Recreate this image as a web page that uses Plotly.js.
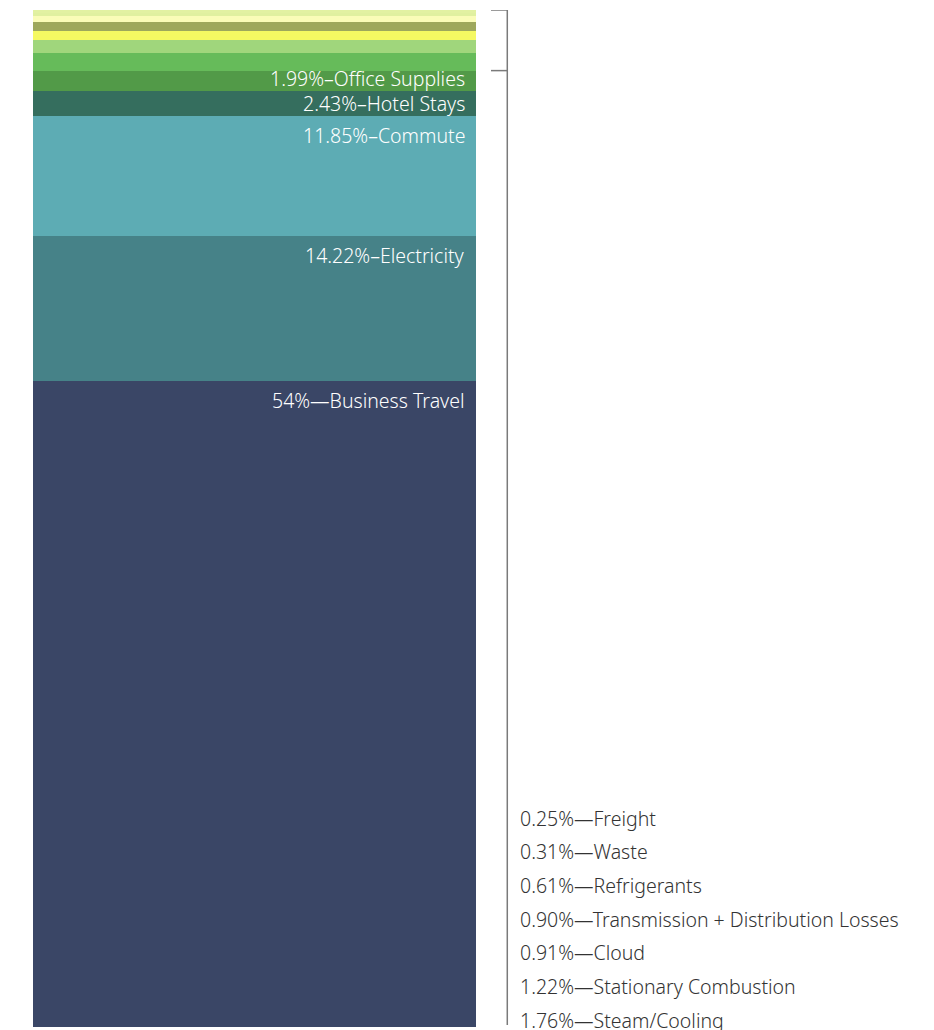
<!DOCTYPE html>
<html>
<head>
<meta charset="utf-8">
<script src="https://cdn.plot.ly/plotly-3.0.1.min.js"></script>
<style>html,body{margin:0;padding:0;background:#fff;}#chart{width:934px;height:1030px;}</style>
</head>
<body>
<div id="chart"></div>
<script>
// Segments from bottom to top
const categories = ["Business Travel","Electricity","Commute","Hotel Stays","Office Supplies","Steam/Cooling","Stationary Combustion","Cloud","Transmission + Distribution Losses","Refrigerants","Waste","Freight"];
const values = [63.55, 14.22, 11.85, 2.43, 1.99, 1.76, 1.22, 0.91, 0.90, 0.61, 0.31, 0.25];
const labelPct = ["54%","14.22%","11.85%","2.43%","1.99%","1.76%","1.22%","0.91%","0.90%","0.61%","0.31%","0.25%"];
const colors = ["#3a4666","#468288","#5dacb4","#356e5e","#529a48","#66bb5a","#a0d67c","#f5f962","#9ea85c","#fafcb8","#e0f0a0","#e2f1a2"];
// inside labels (index, dash)
const insideIdx = [0,1,2,3,4];
const insideDash = ["—","–","–","–","–"];
const insideMode = ["top","top","top","mid","mid"];
// outside list, top to bottom
const outsideIdx = [11,10,9,8,7,6,5];

const total = values.reduce((a,b)=>a+b,0);
const cum = [];
let s = 0;
values.forEach(v=>{cum.push(s); s+=v;});

const traces = categories.map((c,i)=>({
  type:'bar', x:[0], y:[values[i]], width:[1], name:c,
  marker:{color:colors[i], line:{width:0}},
  hoverinfo:'skip', showlegend:false
}));

const font = "'Noto Sans', 'Open Sans', sans-serif";
const fs = 19.5;
const midShift = {3:0, 4:2};
const annotations = [];
insideIdx.forEach((idx,k)=>{
  const top = cum[idx]+values[idx];
  const mid = cum[idx]+values[idx]/2;
  const isTop = insideMode[k]==="top";
  annotations.push({
    xref:'x', yref:'y', x:0.5, y: isTop?top:mid,
    xanchor:'right', yanchor: isTop?'top':'middle',
    xshift:-10, yshift: isTop?-5:midShift[idx],
    borderpad:0,
    text: labelPct[idx]+insideDash[k]+categories[idx],
    showarrow:false, font:{family:font, size:fs, color:'#ffffff', weight:300}
  });
});
outsideIdx.forEach((idx,k)=>{
  annotations.push({
    xref:'paper', yref:'paper', x:0.5383, y:(1027-818-k*33.7)/1017,
    xanchor:'left', yanchor:'middle',
    text: labelPct[idx]+"—"+categories[idx],
    showarrow:false, font:{family:font, size:fs, color:'#333333', weight:300}
  });
});

const bracketLow = cum[5]; // bottom of small group
const lc = '#7a7a7a';
const shapes = [
  {type:'line', xref:'paper', yref:'y', x0:0.5083, x1:0.5272, y0:total, y1:total, line:{color:lc, width:1.5}},
  {type:'line', xref:'paper', yref:'y', x0:0.5083, x1:0.5272, y0:bracketLow, y1:bracketLow, line:{color:lc, width:1.5}},
  {type:'line', xref:'paper', yref:'paper', x0:0.5264, x1:0.5264, y0:0.002, y1:1, line:{color:lc, width:1.5}}
];

const layout = {
  width:934, height:1030,
  margin:{l:33, r:0, t:10, b:3, pad:0},
  paper_bgcolor:'#ffffff', plot_bgcolor:'#ffffff',
  barmode:'stack', bargap:0,
  xaxis:{domain:[0,443/901], range:[-0.5,0.5], visible:false, fixedrange:true},
  yaxis:{range:[0,total], visible:false, fixedrange:true},
  annotations:annotations, shapes:shapes, showlegend:false
};
Plotly.newPlot('chart', traces, layout, {displayModeBar:false, staticPlot:true});
</script>
</body>
</html>
